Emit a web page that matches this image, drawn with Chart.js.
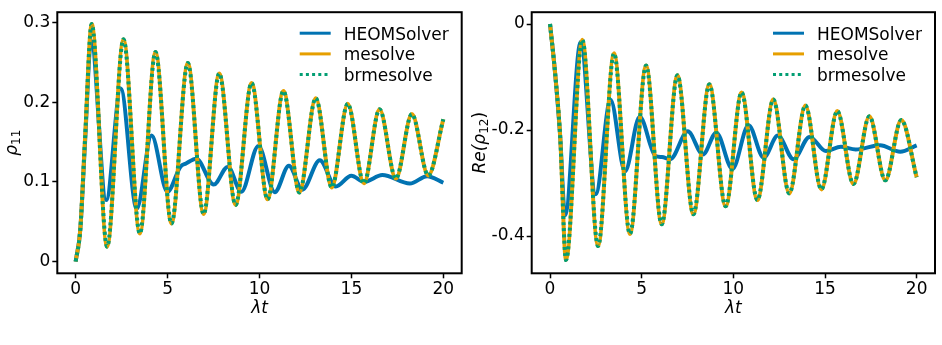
<!DOCTYPE html>
<html>
<head>
<meta charset="utf-8">
<script src="https://cdn.jsdelivr.net/npm/chart.js@4"></script>
<style>
  body { margin: 0; background: #fff; }
  .box { position: absolute; top: 0; width: 471px; height: 345px; }
</style>
</head>
<body>
<div class="box" style="left:0"><canvas id="left" width="471" height="345"></canvas></div>
<div class="box" style="left:471px"><canvas id="right" width="471" height="345"></canvas></div>
<script>
// tick labels
var xTicks = [0, 5, 10, 15, 20];
var rho11Ticks = [0, 0.1, 0.2, 0.3];
var re12Ticks = [-0.4, -0.2, 0];

// rho_11, mesolve / brmesolve (the two coincide)
var tMeLeft = [0, 0.25, 0.5, 0.87, 1.71, 2.6, 3.49, 4.34, 5.21, 6.1, 6.96, 7.81, 8.7, 9.57, 10.44, 11.3, 12.17, 13.06, 13.93, 14.8, 15.68, 16.53, 17.42, 18.29, 19.18, 20];
var rho11Me = [0, 0.04, 0.15, 0.298, 0.0185, 0.279, 0.035, 0.263, 0.0476, 0.249, 0.0595, 0.236, 0.071, 0.224, 0.078, 0.214, 0.0866, 0.205, 0.0928, 0.198, 0.098, 0.191, 0.104, 0.185, 0.108, 0.1786];

// rho_11, HEOMSolver
var tHeLeft = [0, 0.25, 0.5, 0.84, 1.66, 2.45, 3.32, 4.13, 4.99, 5.7, 6.0, 6.56, 7.51, 8.28, 9.01, 9.94, 10.83, 11.6, 12.33, 13.28, 14.15, 15.0, 15.7, 16.68, 18.18, 19.12, 20];
var rho11He = [0, 0.04, 0.145, 0.277, 0.077, 0.217, 0.066, 0.158, 0.0874, 0.119, 0.123, 0.129, 0.0965, 0.119, 0.0874, 0.145, 0.087, 0.12, 0.09, 0.127, 0.094, 0.1075, 0.1, 0.1085, 0.0977, 0.107, 0.0988];

// Re(rho_12), mesolve / brmesolve
var tMeRight = [0, 0.27, 0.55, 0.87, 1.76, 2.62, 3.49, 4.36, 5.24, 6.09, 6.95, 7.82, 8.69, 9.58, 10.45, 11.31, 12.18, 13.05, 13.93, 14.8, 15.67, 16.55, 17.42, 18.29, 19.16, 20];
var re12Me = [0, -0.09, -0.21, -0.4455, -0.0295, -0.419, -0.0553, -0.396, -0.078, -0.378, -0.0965, -0.359, -0.1137, -0.344, -0.129, -0.332, -0.1426, -0.3195, -0.1536, -0.312, -0.164, -0.302, -0.174, -0.295, -0.181, -0.289];

// Re(rho_12), HEOMSolver
var tHeRight = [0, 0.27, 0.55, 0.82, 1.67, 2.49, 3.3, 4.09, 4.89, 5.75, 6.1, 6.56, 7.51, 8.34, 9.07, 9.95, 10.83, 11.65, 12.43, 13.28, 14.16, 15.05, 15.87, 16.68, 18.0, 19.1, 20];
var re12He = [0, -0.09, -0.21, -0.361, -0.0338, -0.321, -0.1427, -0.278, -0.175, -0.249, -0.251, -0.255, -0.2025, -0.246, -0.205, -0.2735, -0.191, -0.252, -0.2105, -0.255, -0.213, -0.2397, -0.2316, -0.2366, -0.2288, -0.241, -0.229];

var BLUE = "#0173B2", ORANGE = "#E69F00", GREEN = "#029E73";

Chart.defaults.font.family = "'DejaVu Sans', sans-serif";
Chart.defaults.font.size = 17;
Chart.defaults.color = "#000";

function pts(t, v) {
  return t.map(function (x, i) { return { x: x, y: v[i] }; });
}

// box around the axes, y label with real subscripts, legend in the upper right
var framePlugin = {
  id: "frame",
  afterDraw: function (chart, args, opts) {
    var ctx = chart.ctx, a = chart.chartArea;
    ctx.save();
    ctx.strokeStyle = "#000";
    ctx.lineWidth = 2;
    ctx.strokeRect(a.left, a.top, a.right - a.left, a.bottom - a.top);

    // y axis label, rotated
    ctx.save();
    ctx.translate(opts.labelX, (a.top + a.bottom) / 2);
    ctx.rotate(-Math.PI / 2);
    ctx.textBaseline = "alphabetic";
    ctx.fillStyle = "#000";
    var fonts = opts.label.map(function (p) {
      return p.sub ? "12px 'DejaVu Sans'" : (p.it ? "italic 17px 'DejaVu Sans'" : "17px 'DejaVu Sans'");
    });
    var w = 0;
    opts.label.forEach(function (p, i) { ctx.font = fonts[i]; w += ctx.measureText(p.s).width; });
    var x = -w / 2;
    opts.label.forEach(function (p, i) {
      ctx.font = fonts[i];
      ctx.fillText(p.s, x, p.sub ? 3.5 : 0);
      x += ctx.measureText(p.s).width;
    });
    ctx.restore();

    var items = chart.data.datasets.slice().sort(function (p, q) { return q.order - p.order; });
    ctx.font = "17px 'DejaVu Sans'";
    ctx.fillStyle = "#000";
    ctx.textBaseline = "alphabetic";
    items.forEach(function (ds, i) {
      var y = a.top + 21 + i * 20.7;
      ctx.beginPath();
      ctx.strokeStyle = ds.borderColor;
      ctx.lineWidth = 3;
      ctx.setLineDash(ds.borderDash || []);
      ctx.moveTo(a.right - 162, y);
      ctx.lineTo(a.right - 131, y);
      ctx.stroke();
      ctx.setLineDash([]);
      ctx.fillText(ds.label, a.right - 118, y + 6.3);
    });
    ctx.restore();
  }
};

function makeChart(id, cfg) {
  return new Chart(id, {
    type: "line",
    data: {
      datasets: [
        { label: "HEOMSolver", data: pts(cfg.tHe, cfg.he), borderColor: BLUE, order: 3 },
        { label: "mesolve", data: pts(cfg.tMe, cfg.me), borderColor: ORANGE, order: 2 },
        { label: "brmesolve", data: pts(cfg.tMe, cfg.me), borderColor: GREEN, borderDash: [3, 3.2], order: 1 }
      ]
    },
    options: {
      responsive: false,
      animation: false,
      layout: { padding: { top: 6, right: cfg.padRight, bottom: 0, left: 0 } },
      elements: {
        point: { radius: 0 },
        line: { borderWidth: 4, cubicInterpolationMode: "monotone", fill: false }
      },
      plugins: {
        legend: { display: false },
        tooltip: { enabled: false },
        frame: { label: cfg.yLabel, labelX: cfg.labelX }
      },
      scales: {
        x: {
          type: "linear",
          min: -1, max: 21,
          afterBuildTicks: function (s) { s.ticks = xTicks.map(function (v) { return { value: v }; }); },
          afterFit: function (s) { s.height = 71.7; },
          grid: { drawOnChartArea: false, tickLength: 5, tickColor: "#000", tickWidth: 1.5 },
          border: { display: false },
          ticks: { padding: 1, maxRotation: 0, autoSkip: false },
          title: { display: true, text: "λt", font: { style: "italic", size: 17 }, padding: { top: 0, bottom: 26.5 } }
        },
        y: {
          min: cfg.yMin, max: cfg.yMax,
          afterBuildTicks: function (s) { s.ticks = cfg.yTicks.map(function (v) { return { value: v }; }); },
          afterFit: function (s) { s.width = cfg.axisWidth; },
          grid: { drawOnChartArea: false, tickLength: 5, tickColor: "#000", tickWidth: 1.5 },
          border: { display: false },
          ticks: {
            padding: 2,
            callback: function (v) { return v === 0 ? "0" : String(v); }
          }
        }
      }
    },
    plugins: [framePlugin]
  });
}

makeChart("left", {
  tHe: tHeLeft, he: rho11He, tMe: tMeLeft, me: rho11Me,
  yTicks: rho11Ticks, yMin: -0.0149, yMax: 0.3129,
  yLabel: [{ s: "ρ", it: true }, { s: "11", sub: true }],
  labelX: 16.5, axisWidth: 57.3, padRight: 9.3
});

makeChart("right", {
  tHe: tHeRight, he: re12He, tMe: tMeRight, me: re12Me,
  yTicks: re12Ticks, yMin: -0.4704, yMax: 0.0224,
  yLabel: [{ s: "Re(", it: true }, { s: "ρ", it: true }, { s: "12", sub: true }, { s: ")", it: false }],
  labelX: 13.5, axisWidth: 60.7, padRight: 7
});
</script>
</body>
</html>
